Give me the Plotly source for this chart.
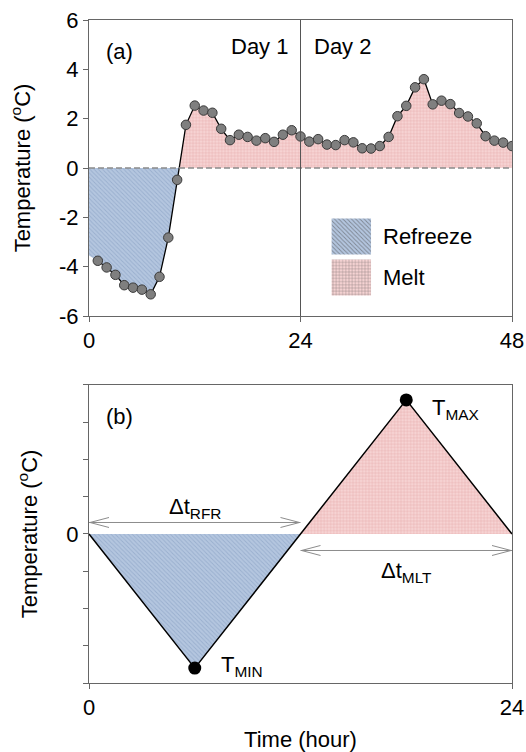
import numpy as np
import plotly.graph_objects as go

# ---------------- data ----------------
hours_a = list(range(0, 49))
temp_a = [-3.55, -3.76, -4.03, -4.33, -4.75, -4.85, -4.93, -5.12, -4.41, -2.82, -0.48,
          1.75, 2.53, 2.33, 2.24, 1.59, 1.13, 1.35, 1.26, 1.11, 1.21, 1.06, 1.35, 1.53, 1.28,
          1.07, 1.17, 0.95, 0.93, 1.13, 1.04, 0.80, 0.79, 0.89, 1.26, 2.10, 2.52, 3.27, 3.60,
          2.58, 2.73, 2.59, 2.23, 2.09, 1.81, 1.29, 1.11, 1.03, 0.89]

hours_b = [0, 6, 12, 18, 24]
temp_b = [0, -3.6, 0, 3.6, 0]

legend_labels = ["Refreeze", "Melt"]
xticks_a = [0, 24, 48]
xticks_b = [0, 24]
yticks_a = [-6, -4, -2, 0, 2, 4, 6]
yticktext_a = ["-6", "-4", "-2", "0", "2", "4", "6"]
yticks_b = [-4, -3, -2, -1, 0, 1, 2, 3, 4]
yticktext_b = ["", "", "", "", "0", "", "", "", ""]

# ---------------- styles ----------------
FONT = "Liberation Sans, Arial, sans-serif"
FS = 22
BLUE_BG, BLUE_FG = "#b4c6df", "#7e97bd"
RED_BG, RED_FG = "#f6d3d3", "#de8c8c"
AX = "#666666"

blue_pat = dict(shape="\\", fgcolor=BLUE_FG, size=3, solidity=0.3, fillmode="overlay")
red_pat = dict(shape="+", fgcolor=RED_FG, size=3.2, solidity=0.28, fillmode="overlay")


def split_fill(x, y):
    xs, neg, pos = [], [], []
    for i in range(len(x)):
        if i > 0 and y[i - 1] * y[i] < 0:
            xc = x[i - 1] + (0 - y[i - 1]) * (x[i] - x[i - 1]) / (y[i] - y[i - 1])
            xs.append(xc); neg.append(0.0); pos.append(0.0)
        xs.append(x[i]); neg.append(min(y[i], 0.0)); pos.append(max(y[i], 0.0))
    return xs, neg, pos


fig = go.Figure()

# ---- panel (a) ----
xa, nega, posa = split_fill(hours_a, temp_a)
fig.add_trace(go.Scatter(x=xa, y=nega, mode="lines", line=dict(width=0), fill="tozeroy",
                         fillcolor=BLUE_BG, fillpattern=blue_pat, xaxis="x", yaxis="y",
                         hoverinfo="skip", showlegend=False))
fig.add_trace(go.Scatter(x=xa, y=posa, mode="lines", line=dict(width=0), fill="tozeroy",
                         fillcolor=RED_BG, fillpattern=red_pat, xaxis="x", yaxis="y",
                         hoverinfo="skip", showlegend=False))
fig.add_trace(go.Scatter(x=hours_a[1:], y=temp_a[1:], mode="lines+markers",
                         line=dict(color="black", width=1.3),
                         marker=dict(size=9.5, color="#7f7f7f", line=dict(color="#3a3a3a", width=1)),
                         xaxis="x", yaxis="y", showlegend=False))

# ---- panel (b) ----
xb, negb, posb = split_fill(hours_b, temp_b)
fig.add_trace(go.Scatter(x=xb, y=negb, mode="lines", line=dict(width=0), fill="tozeroy",
                         fillcolor=BLUE_BG, fillpattern=blue_pat, xaxis="x2", yaxis="y2",
                         hoverinfo="skip", showlegend=False))
fig.add_trace(go.Scatter(x=xb, y=posb, mode="lines", line=dict(width=0), fill="tozeroy",
                         fillcolor=RED_BG, fillpattern=red_pat, xaxis="x2", yaxis="y2",
                         hoverinfo="skip", showlegend=False))
fig.add_trace(go.Scatter(x=hours_b, y=temp_b, mode="lines", line=dict(color="black", width=1.5),
                         xaxis="x2", yaxis="y2", showlegend=False))
imin = int(np.argmin(temp_b)); imax = int(np.argmax(temp_b))
fig.add_trace(go.Scatter(x=[hours_b[imin], hours_b[imax]], y=[temp_b[imin], temp_b[imax]],
                         mode="markers", marker=dict(size=13, color="black"),
                         xaxis="x2", yaxis="y2", showlegend=False, cliponaxis=False))

# ---- legend swatches ----
fig.add_trace(go.Bar(x=[1, 1], y=legend_labels, orientation="h", xaxis="x3", yaxis="y3",
                     marker=dict(color=[BLUE_BG, RED_BG], line=dict(width=0),
                                 pattern=dict(shape=["\\", "+"], fgcolor=[BLUE_FG, RED_FG],
                                              size=[3, 3.2], solidity=[0.3, 0.28],
                                              fillmode="overlay")),
                     showlegend=False, hoverinfo="skip"))

axis_common = dict(showline=True, linecolor=AX, linewidth=1, mirror=True, ticks="outside",
                   ticklen=5, tickcolor=AX, showgrid=False, zeroline=False,
                   tickfont=dict(family=FONT, size=FS, color="black"))

ytitle = dict(text="Temperature (<sup>o</sup>C)", font=dict(family=FONT, size=FS, color="black"), standoff=22)

fig.update_layout(
    width=526, height=752,
    margin=dict(l=89, r=14, t=20, b=69, autoexpand=False),
    paper_bgcolor="white", plot_bgcolor="white",
    bargap=0.12,
    xaxis=dict(domain=[0, 1], anchor="y", range=[0, 48], tickvals=xticks_a, **axis_common),
    yaxis=dict(domain=[0.5535, 1], anchor="x", range=[-6, 6], tickvals=yticks_a, ticktext=yticktext_a,
               title=ytitle, **axis_common),
    xaxis2=dict(domain=[0, 1], anchor="y2", range=[0, 24], tickvals=xticks_b,
                title=dict(text="Time (hour)", font=dict(family=FONT, size=FS, color="black"), standoff=13),
                **axis_common),
    yaxis2=dict(domain=[0, 0.4495], anchor="x2", range=[-4, 4], tickvals=yticks_b, ticktext=yticktext_b,
                title=ytitle, **axis_common),
    xaxis3=dict(domain=[0.573, 0.667], anchor="y3", range=[0, 1], visible=False, fixedrange=True),
    yaxis3=dict(domain=[0.5807, 0.7044], anchor="x3", range=[1.5, -0.5], visible=False,
                categoryorder="array", categoryarray=legend_labels),
    showlegend=False,
)

# ---- reference lines ----
fig.add_shape(type="line", xref="x domain", yref="y", x0=0, x1=1, y0=0, y1=0,
              line=dict(color="#8a8a8a", width=1.3, dash="6px,3px"))
fig.add_shape(type="line", xref="x", yref="y domain", x0=24, x1=24, y0=0, y1=1,
              line=dict(color="#555555", width=1))

# ---- arrows in panel (b) ----
x_cross = hours_b[2]
ARW = "#8c8c8c"
arrows = [(hours_b[0], x_cross, 11.5), (x_cross, hours_b[-1], -16.5)]
for xs_, xe_, ypix in arrows:
    fig.add_shape(type="line", xref="x2", yref="y2", ysizemode="pixel", yanchor=0,
                  x0=xs_, x1=xe_, y0=ypix, y1=ypix, line=dict(color=ARW, width=1))
    fig.add_shape(type="path", xref="x2", yref="y2", xsizemode="pixel", xanchor=xs_,
                  ysizemode="pixel", yanchor=0,
                  path=f"M 20,{ypix + 5} L 1,{ypix} L 20,{ypix - 5}", line=dict(color=ARW, width=1))
    fig.add_shape(type="path", xref="x2", yref="y2", xsizemode="pixel", xanchor=xe_,
                  ysizemode="pixel", yanchor=0,
                  path=f"M -20,{ypix + 5} L -1,{ypix} L -20,{ypix - 5}", line=dict(color=ARW, width=1))

txt = dict(family=FONT, size=FS, color="black")
ann = [
    dict(text="(a)", xref="x domain", yref="y domain", x=0.036, y=0.894, xanchor="left", yanchor="middle"),
    dict(text="Day 1", xref="x", yref="y domain", x=24, y=0.909, xanchor="right", yanchor="middle", xshift=-11),
    dict(text="Day 2", xref="x", yref="y domain", x=24, y=0.909, xanchor="left", yanchor="middle", xshift=11),
    dict(text="(b)", xref="x2 domain", yref="y2 domain", x=0.036, y=0.894, xanchor="left", yanchor="middle"),
    dict(text="T<sub>MAX</sub>", xref="x2", yref="y2", x=hours_b[imax], y=temp_b[imax], xanchor="left",
         yanchor="middle", xshift=24, yshift=-9),
    dict(text="T<sub>MIN</sub>", xref="x2", yref="y2", x=hours_b[imin], y=temp_b[imin], xanchor="left",
         yanchor="middle", xshift=24, yshift=2),
    dict(text="Δt<sub>RFR</sub>", xref="x2", yref="y2", x=(hours_b[0] + x_cross) / 2, y=0, xanchor="center",
         yanchor="middle", yshift=26),
    dict(text="Δt<sub>MLT</sub>", xref="x2", yref="y2", x=(x_cross + hours_b[-1]) / 2, y=0, xanchor="center",
         yanchor="middle", yshift=-38),
]
for i, lab in enumerate(legend_labels):
    ann.append(dict(text=lab, xref="x3", yref="y3", x=1, y=lab, xanchor="left", yanchor="middle", xshift=10))
for a in ann:
    a.setdefault("showarrow", False)
    a["font"] = txt
fig.update_layout(annotations=ann)

fig.write_html("out.html", config={"displayModeBar": False},
               post_script="document.body.style.margin='0';document.body.style.overflow='hidden';")
